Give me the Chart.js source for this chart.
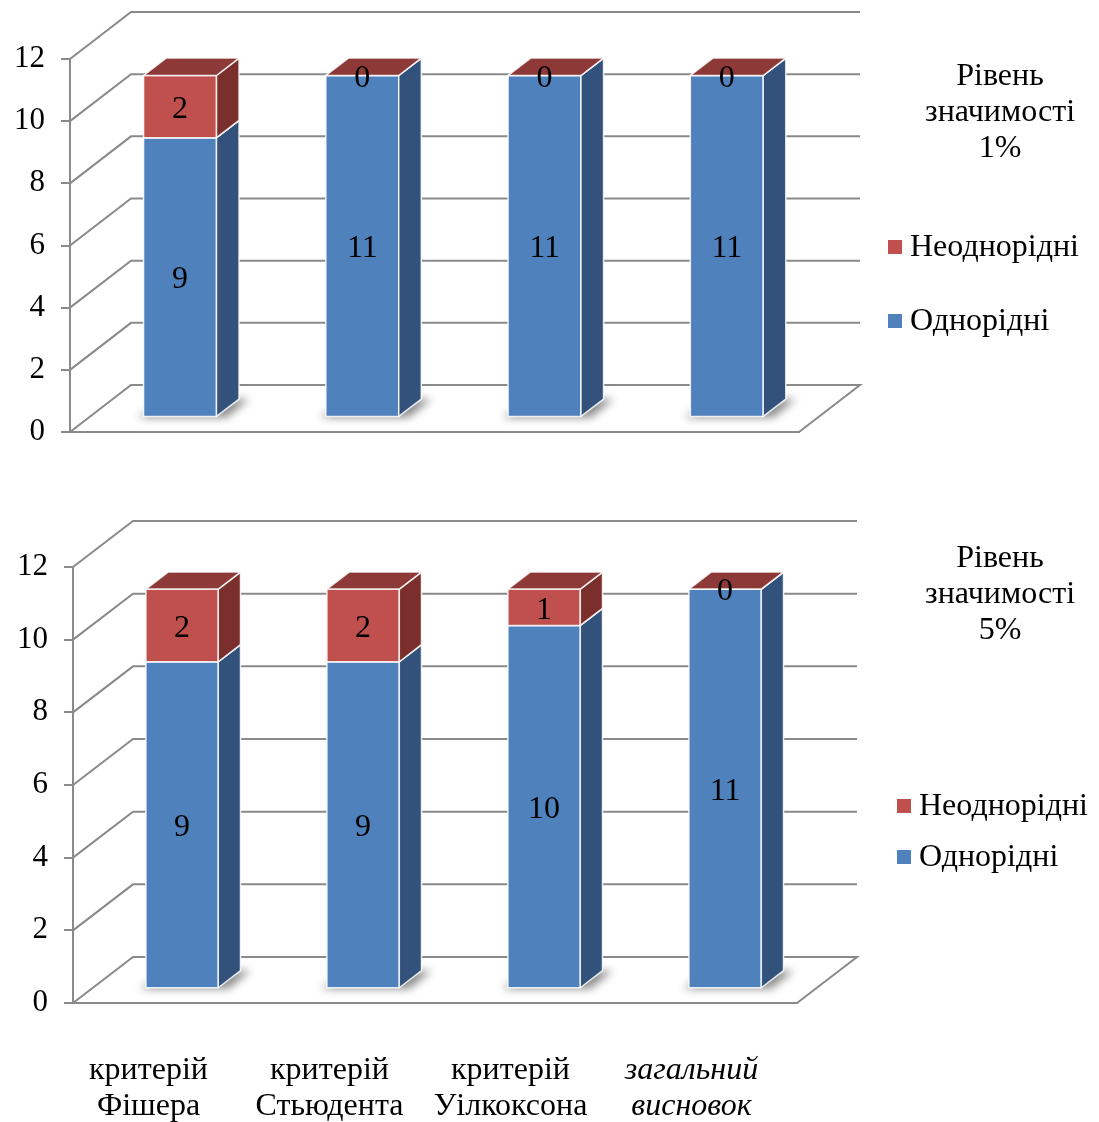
<!DOCTYPE html>
<html>
<head>
<meta charset="utf-8">
<script src="https://cdn.jsdelivr.net/npm/chart.js@4.4.0/dist/chart.umd.min.js"></script>
<style>
  html, body { margin: 0; padding: 0; background: #fff; }
  #wrap { position: relative; width: 1099px; height: 1122px; }
  canvas { position: absolute; left: 0; }
</style>
</head>
<body>
<div id="wrap">
  <canvas id="chart1" width="1099" height="470" style="top:0"></canvas>
  <canvas id="chart2" width="1099" height="652" style="top:470px"></canvas>
</div>
<script>
var categories = [['критерій', 'Фішера'], ['критерій', 'Стьюдента'], ['критерій', 'Уілкоксона'], ['загальний', 'висновок']];
var seriesNames = ['Однорідні', 'Неоднорідні'];
var homogeneous1 = [9, 11, 11, 11];
var heterogeneous1 = [2, 0, 0, 0];
var homogeneous5 = [9, 9, 10, 11];
var heterogeneous5 = [2, 2, 1, 0];
var title1 = ['Рівень', 'значимості', '1%'];
var title5 = ['Рівень', 'значимості', '5%'];
var yMin = 0, yMax = 12, yStep = 2;

var FONT = "'Liberation Serif', 'Times New Roman', serif";
var GRID = '#8a8a8a';
var blueFaces = { front: '#4f81bd', side: '#32527b', top: '#3e6698' };
var redFaces = { front: '#c0504d', side: '#7b2f2d', top: '#8d3937' };

function poly(ctx, pts, fill) {
  ctx.beginPath();
  ctx.moveTo(pts[0][0], pts[0][1]);
  for (var i = 1; i < pts.length; i++) ctx.lineTo(pts[i][0], pts[i][1]);
  ctx.closePath();
  ctx.fillStyle = fill;
  ctx.fill();
  ctx.stroke();
}

// draws the 3d walls, boxes, value labels and legend
var box3d = {
  id: 'box3d',
  beforeDatasetsDraw: function (chart, args, opts) {
    var ctx = chart.ctx, y = chart.scales.y, a = chart.chartArea;
    ctx.save();
    ctx.strokeStyle = GRID;
    ctx.lineWidth = 2;
    y.ticks.forEach(function (t) {
      var py = y.getPixelForValue(t.value);
      ctx.beginPath();
      ctx.moveTo(a.left, py);
      ctx.lineTo(a.left + opts.dx, py - opts.dy);
      ctx.lineTo(a.right + opts.dx, py - opts.dy);
      if (t.value === yMin) ctx.lineTo(a.right, py);
      ctx.stroke();
    });
    // soft shadow on the floor
    var meta = chart.getDatasetMeta(0);
    var sx = opts.d0 * opts.dx, sy = opts.d0 * opts.dy;
    var ddx = (opts.d1 - opts.d0) * opts.dx, ddy = (opts.d1 - opts.d0) * opts.dy;
    ctx.filter = 'blur(4px)';
    ctx.fillStyle = 'rgba(0,0,0,0.45)';
    meta.data.forEach(function (el) {
      var p = el.getProps(['x', 'base', 'width'], true);
      var x0 = p.x - p.width / 2 + sx + 2, x1 = p.x + p.width / 2 + sx + 10;
      var yb = p.base - sy;
      ctx.beginPath();
      ctx.moveTo(x0 - 8, yb + 1);
      ctx.lineTo(x1, yb + 1);
      ctx.lineTo(x1 + ddx, yb - ddy);
      ctx.lineTo(x0 + ddx, yb - ddy);
      ctx.closePath();
      ctx.fill();
    });
    ctx.filter = 'none';
    ctx.restore();
  },
  beforeDatasetDraw: function () { return false; },
  afterDatasetsDraw: function (chart, args, opts) {
    var ctx = chart.ctx;
    var sx = opts.d0 * opts.dx, sy = opts.d0 * opts.dy;
    var ddx = (opts.d1 - opts.d0) * opts.dx, ddy = (opts.d1 - opts.d0) * opts.dy;
    var labels = [];
    ctx.save();
    ctx.strokeStyle = 'rgba(255,255,255,0.85)';
    ctx.lineWidth = 1.5;
    ctx.lineJoin = 'round';
    for (var i = 0; i < chart.data.labels.length; i++) {
      chart.data.datasets.forEach(function (ds, k) {
        var el = chart.getDatasetMeta(k).data[i];
        var p = el.getProps(['x', 'y', 'base', 'width'], true);
        var x0 = p.x - p.width / 2 + sx, x1 = p.x + p.width / 2 + sx;
        var yt = Math.min(p.y, p.base) - sy, yb = Math.max(p.y, p.base) - sy;
        var f = ds.faces;
        if (yb - yt > 0.5) poly(ctx, [[x0, yb], [x1, yb], [x1, yt], [x0, yt]], f.front);
        if (yb - yt > 0.5) poly(ctx, [[x1, yb], [x1, yt], [x1 + ddx, yt - ddy], [x1 + ddx, yb - ddy]], f.side);
        poly(ctx, [[x0, yt], [x1, yt], [x1 + ddx, yt - ddy], [x0 + ddx, yt - ddy]], f.top);
        labels.push({ text: String(ds.data[i]), x: (x0 + x1) / 2, y: (yt + yb) / 2 + 3 });
      });
    }
    ctx.fillStyle = '#000';
    ctx.font = '32px ' + FONT;
    ctx.textAlign = 'center';
    ctx.textBaseline = 'middle';
    labels.forEach(function (l) { ctx.fillText(l.text, l.x, l.y); });
    ctx.restore();
  },
  afterDraw: function (chart, args, opts) {
    var lg = opts.legend, ctx = chart.ctx;
    ctx.save();
    ctx.fillStyle = '#000';
    ctx.font = '32px ' + FONT;
    ctx.textBaseline = 'middle';
    ctx.textAlign = 'center';
    lg.title.forEach(function (line, j) {
      ctx.fillText(line, lg.titleX, lg.titleY + j * lg.titleGap);
    });
    ctx.textAlign = 'left';
    var ds = chart.data.datasets.slice().reverse();
    ds.forEach(function (d, j) {
      var yy = lg.itemY[j];
      ctx.fillStyle = d.faces.front;
      ctx.fillRect(lg.boxX, yy - 7, 14, 14);
      ctx.fillStyle = '#000';
      ctx.fillText(d.label, lg.boxX + 22, yy + 1);
    });
    ctx.restore();
  }
};

function makePanel(id, blue, red, geo) {
  return new Chart(document.getElementById(id), {
    type: 'bar',
    data: {
      labels: categories,
      datasets: [
        { label: seriesNames[0], data: blue, backgroundColor: blueFaces.front, faces: blueFaces },
        { label: seriesNames[1], data: red, backgroundColor: redFaces.front, faces: redFaces }
      ]
    },
    options: {
      responsive: false,
      animation: false,
      events: [],
      layout: { padding: { left: 0, top: geo.top, right: geo.right, bottom: 0 } },
      datasets: { bar: { barPercentage: 0.4, categoryPercentage: 1 } },
      scales: {
        x: {
          stacked: true,
          afterFit: function (s) { s.height = geo.axisH; },
          grid: { display: false },
          border: { display: true, color: GRID, width: 2 },
          ticks: {
            display: geo.showLabels,
            padding: 42,
            labelOffset: -15,
            maxRotation: 0,
            autoSkip: false,
            color: '#000',
            font: function (c) {
              return { family: FONT, size: 32, lineHeight: '36px', style: c.index === categories.length - 1 ? 'italic' : 'normal' };
            }
          }
        },
        y: {
          stacked: true,
          min: yMin,
          max: yMax,
          afterFit: function (s) { s.width = geo.left; },
          grid: { display: true, drawOnChartArea: false, drawTicks: true, tickLength: 9, color: GRID, lineWidth: 2 },
          border: { display: true, color: GRID, width: 2 },
          ticks: { stepSize: yStep, padding: 16, color: '#000', font: { family: FONT, size: 31 } }
        }
      },
      plugins: {
        legend: { display: false },
        tooltip: { enabled: false },
        box3d: { dx: geo.dx, dy: geo.dy, d0: 0.31, d1: 0.68, legend: geo.legend }
      }
    },
    plugins: [box3d]
  });
}

makePanel('chart1', homogeneous1, heterogeneous1, {
  top: 59, right: 300, left: 70, axisH: 38, dx: 61, dy: 47, showLabels: false,
  legend: { title: title1, titleX: 1000, titleY: 77, titleGap: 36, boxX: 888, itemY: [247, 321] }
});
makePanel('chart2', homogeneous5, heterogeneous5, {
  top: 97, right: 302, left: 73, axisH: 119, dx: 60, dy: 46, showLabels: true,
  legend: { title: title5, titleX: 1000, titleY: 89, titleGap: 36, boxX: 897, itemY: [336, 387] }
});
</script>
</body>
</html>
